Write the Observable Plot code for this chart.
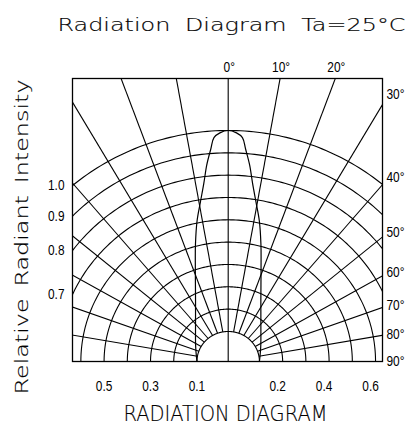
<!DOCTYPE html>
<html><head><meta charset="utf-8">
<script src="https://cdn.jsdelivr.net/npm/d3@7"></script>
<script src="https://cdn.jsdelivr.net/npm/@observablehq/plot@0.6"></script>
<style>body{margin:0;background:#fff} svg{display:block}</style>
</head><body><div id="chart"></div>
<script>
// ---- texts ----
const titleText = "Radiation Diagram Ta=25°C";
const captionText = "RADIATION DIAGRAM";
const yLabelText = "Relative Radiant Intensity";

// ---- grid ----
const ringValues = [0.1, 0.2, 0.3, 0.4, 0.5, 0.6, 0.7, 0.8, 0.9, 1.0];
const spokeAngles = [-80, -70, -60, -50, -40, -30, -20, -10, 10, 20, 30, 40, 50, 60, 70, 80];

// ---- beam pattern (angle in degrees, relative intensity) ----
const beamAngles = [-90, -65, -41, -27.5, -19, -15, -12, -9.5, -7.5, -6, -4.5, -3.5, -2, 0,
                    2, 3.5, 4.5, 6, 7.5, 9.5, 12, 15, 19, 27.5, 41, 65, 90];
const beamIntensity = [0.10, 0.12, 0.18, 0.27, 0.40, 0.51, 0.61, 0.69, 0.77, 0.85, 0.92, 0.97, 0.99, 1.00,
                       0.99, 0.97, 0.92, 0.85, 0.77, 0.69, 0.61, 0.51, 0.40, 0.27, 0.18, 0.12, 0.10];

// ---- tick labels ----
const topLabels = ["0°", "10°", "20°"];
const topLabelAngles = [0, 10, 20];
const rightLabels = ["30°", "40°", "50°", "60°", "70°", "80°", "90°"];
const rightLabelAngles = [30, 40, 50, 60, 70, 80, 90];
const leftLabels = ["1.0", "0.9", "0.8", "0.7"];
const leftLabelValues = [1.0, 0.9, 0.8, 0.7];
const bottomLabels = ["0.5", "0.3", "0.1", "0.2", "0.4", "0.6"];
const bottomLabelValues = [-0.5, -0.3, -0.1, 0.2, 0.4, 0.6];

// ---- geometry helpers ----
const HUB = 0.0345;                       // radial offset of the diagram
const X0 = -0.6705, X1 = 0.6645, YTOP = 1.2674; // visible window
const rad = d => d * Math.PI / 180;
const rho = v => v + HUB;
const pol = (a, v) => ({x: rho(v) * Math.sin(rad(a)), y: rho(v) * Math.cos(rad(a))});

const ringPts = ringValues.flatMap(v => d3.range(-90, 90.5, 1).map(a => ({...pol(a, v), v})));
const spokes = spokeAngles.map(a => {
  const p = pol(a, 0.1), q = pol(a, 3);
  return {x1: p.x, y1: p.y, x2: q.x, y2: q.y};
});
const c0 = pol(0, -HUB), c1 = pol(0, 3);
spokes.push({x1: c0.x, y1: c0.y, x2: c1.x, y2: c1.y});
const beam = beamAngles.map((a, i) => pol(a, beamIntensity[i]));

const topLab = topLabels.map((t, i) => ({t, x: YTOP * Math.tan(rad(topLabelAngles[i])), y: YTOP}));
const rightLab = rightLabels.map((t, i) => ({t, x: X1, y: (X1 + 0.026) / Math.tan(rad(rightLabelAngles[i]))}));
const leftLab = leftLabels.map((t, i) => ({t, x: X0, y: Math.sqrt(rho(leftLabelValues[i]) ** 2 - X0 * X0)}));
const botLab = bottomLabels.map((t, i) => ({t, x: Math.sign(bottomLabelValues[i]) * rho(Math.abs(bottomLabelValues[i])), y: 0, right: bottomLabelValues[i] > 0}));

const tickFont = "'Liberation Sans', Arial, sans-serif";
const cadFont = "'DejaVu Sans', sans-serif";
const tick = {fontSize: 14, fontFamily: tickFont, fill: "#000"};
const cad = {fontWeight: 200, fontFamily: cadFont, fill: "#000", stroke: "#000", strokeWidth: 0.15};

const chart = Plot.plot({
  width: 413, height: 437,
  marginTop: 78, marginBottom: 76, marginLeft: 72, marginRight: 31,
  x: {domain: [X0, X1], axis: null},
  y: {domain: [0, YTOP], axis: null},
  style: {background: "#fff"},
  marks: [
    Plot.line(ringPts, {x: "x", y: "y", z: "v", stroke: "#000", strokeWidth: 1.1, clip: true}),
    Plot.link(spokes, {x1: "x1", y1: "y1", x2: "x2", y2: "y2", stroke: "#000", strokeWidth: 1.1, clip: true}),
    Plot.line(beam, {x: "x", y: "y", curve: "catmull-rom", stroke: "#000", strokeWidth: 1.2, clip: true}),
    Plot.frame({stroke: "#000", strokeWidth: 1.3}),
    Plot.text(topLab, {x: "x", y: "y", text: "t", dy: -11, dx: 1, textAnchor: "middle", ...tick}),
    Plot.text(rightLab, {x: "x", y: "y", text: "t", dx: 4, textAnchor: "start", ...tick}),
    Plot.text(leftLab, {x: "x", y: "y", text: "t", dx: -8, textAnchor: "end", ...tick}),
    Plot.text(botLab.filter(d => !d.right), {x: "x", y: "y", text: "t", dy: 25, textAnchor: "middle", ...tick}),
    Plot.text(botLab.filter(d => d.right), {x: "x", y: "y", text: "t", dy: 25, dx: -5, textAnchor: "middle", ...tick}),
    Plot.text([titleText], {frameAnchor: "top", dy: -60, dx: 4, textAnchor: "middle", fontSize: 17, ...cad}),
    Plot.text([captionText], {frameAnchor: "bottom", dy: 59, dx: -2, textAnchor: "middle", fontSize: 21, ...cad}),
    Plot.text([yLabelText], {frameAnchor: "left", dx: -50, dy: 17, rotate: -90, textAnchor: "middle", fontSize: 17, ...cad})
  ]
});

document.getElementById("chart").appendChild(chart);
const tickTexts = new Set([...topLabels, ...rightLabels, ...leftLabels, ...bottomLabels]);
d3.select(chart).selectAll("text").each(function() {
  const s = this.textContent;
  if (s === titleText) {
    this.style.wordSpacing = "5px";
    this.setAttribute("textLength", 348); this.setAttribute("lengthAdjust", "spacingAndGlyphs");
  } else if (s === captionText) {
    this.setAttribute("textLength", 204); this.setAttribute("lengthAdjust", "spacingAndGlyphs");
  } else if (s === yLabelText) {
    this.style.wordSpacing = "3px";
    this.setAttribute("textLength", 315); this.setAttribute("lengthAdjust", "spacingAndGlyphs");
  } else if (tickTexts.has(s)) {
    const w = this.getComputedTextLength();
    this.setAttribute("textLength", (w * 0.85).toFixed(1));
    this.setAttribute("lengthAdjust", "spacingAndGlyphs");
  }
});
</script>
</body></html>
